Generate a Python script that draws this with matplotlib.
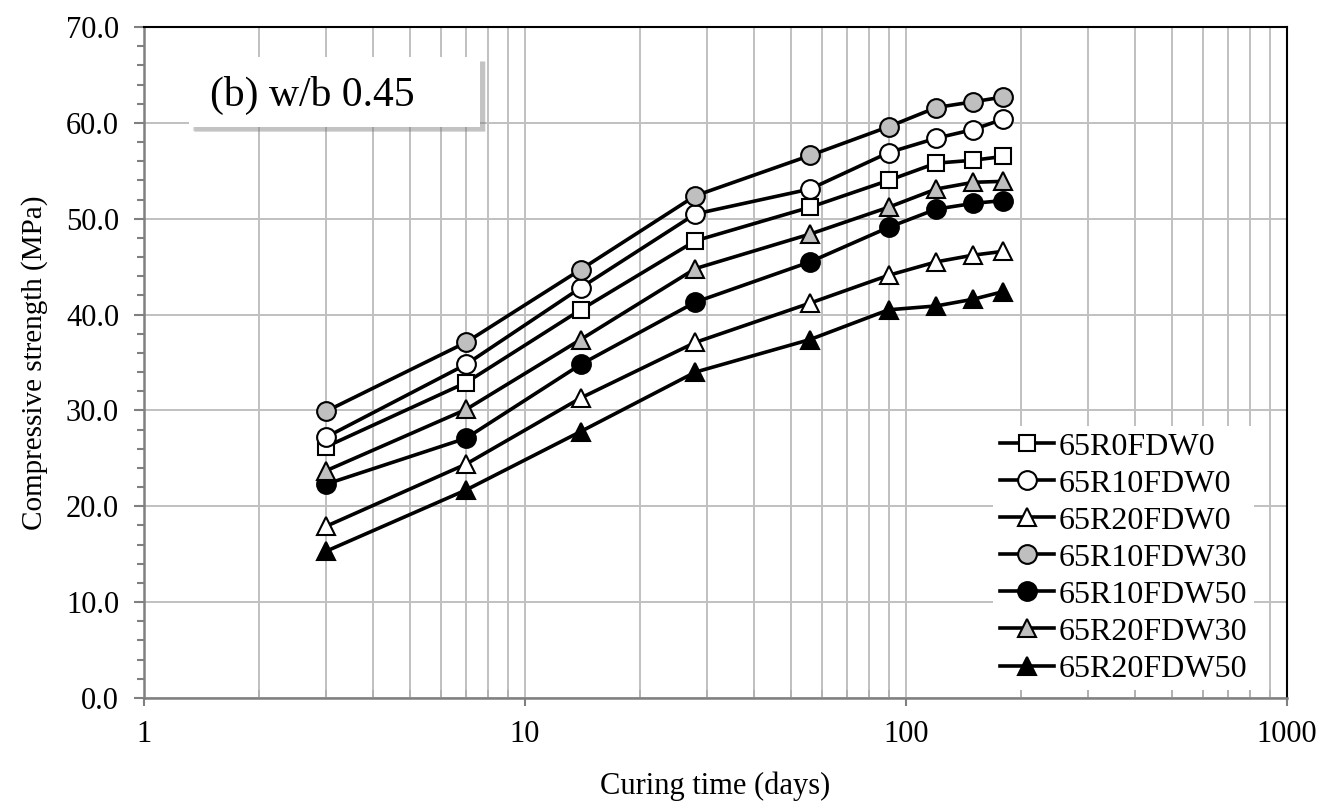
import numpy as np
import matplotlib
matplotlib.use("Agg")
import matplotlib.pyplot as plt
from matplotlib.ticker import FixedLocator, FuncFormatter, LogLocator, MultipleLocator
from matplotlib.patches import Rectangle

plt.rcParams['font.family'] = ['Liberation Serif', 'DejaVu Serif']

DAYS = [3, 7, 14, 28, 56, 90, 120, 150, 180]

R0FDW0 = [26.2, 32.9, 40.5, 47.7, 51.2, 54.0, 55.8, 56.1, 56.5]
R10FDW0 = [27.2, 34.8, 42.8, 50.5, 53.1, 56.9, 58.4, 59.3, 60.4]
R20FDW0 = [17.9, 24.4, 31.3, 37.1, 41.2, 44.1, 45.5, 46.2, 46.6]
R10FDW30 = [29.9, 37.1, 44.7, 52.4, 56.6, 59.6, 61.6, 62.2, 62.7]
R10FDW50 = [22.3, 27.1, 34.8, 41.3, 45.5, 49.1, 51.0, 51.6, 51.9]
R20FDW30 = [23.7, 30.1, 37.4, 44.8, 48.4, 51.2, 53.1, 53.8, 53.9]
R20FDW50 = [15.3, 21.7, 27.8, 34.0, 37.4, 40.5, 40.9, 41.6, 42.4]

SERIES = [
    ('65R0FDW0', R0FDW0, 's', 'white', 11.5),
    ('65R10FDW0', R10FDW0, 'o', 'white', 13.5),
    ('65R20FDW0', R20FDW0, '^', 'white', 13.5),
    ('65R10FDW30', R10FDW30, 'o', '#bfbfbf', 13.5),
    ('65R10FDW50', R10FDW50, 'o', 'black', 13.5),
    ('65R20FDW30', R20FDW30, '^', '#bfbfbf', 13.5),
    ('65R20FDW50', R20FDW50, '^', 'black', 13.5),
]

fig = plt.figure(figsize=(13.3, 8.09), dpi=100)
ax = fig.add_axes([0.1083, 0.1372, 0.8594, 0.8294])

for name, vals, mk, fc, ms in SERIES:
    ax.plot(DAYS, vals, color='black', lw=2.6, marker=mk, markersize=ms,
            markerfacecolor=fc, markeredgecolor='black', markeredgewidth=1.5,
            label=name, zorder=3)

ax.set_xscale('log')
ax.set_xlim(1, 1000)
ax.set_ylim(0, 70)
ax.xaxis.set_major_locator(FixedLocator([1, 10, 100, 1000]))
ax.xaxis.set_minor_locator(LogLocator(base=10, subs=np.arange(2, 10)))
ax.xaxis.set_major_formatter(FuncFormatter(lambda v, p: '%d' % v))
ax.yaxis.set_major_locator(MultipleLocator(10))
ax.yaxis.set_minor_locator(MultipleLocator(2))
ax.yaxis.set_major_formatter(FuncFormatter(lambda v, p: '%.1f' % v))

ax.grid(which='major', axis='both', color='#c0c0c0', lw=1.4, zorder=0)
ax.grid(which='minor', axis='x', color='#c0c0c0', lw=1.4, zorder=0)
ax.set_axisbelow(True)

ax.spines['left'].set_color('#808080')
ax.spines['left'].set_linewidth(1.8)
ax.spines['bottom'].set_color('#808080')
ax.spines['bottom'].set_linewidth(1.8)
ax.spines['top'].set_color('black')
ax.spines['top'].set_linewidth(1.5)
ax.spines['right'].set_color('black')
ax.spines['right'].set_linewidth(1.5)

ax.tick_params(axis='y', which='both', direction='out', color='#808080', width=1.5,
               labelsize=22, pad=11)
ax.tick_params(axis='y', which='major', length=7)
ax.tick_params(axis='y', which='minor', length=5)
ax.tick_params(axis='x', which='major', direction='out', color='#808080', width=1.5,
               length=6, labelsize=22, pad=10)
ax.tick_params(axis='x', which='minor', direction='in', color='#b0b0b0', width=1.3,
               length=6)

ax.set_xlabel('Curing time (days)', fontsize=22, labelpad=16)
ax.set_ylabel('Compressive strength (MPa)', fontsize=21, labelpad=13)

# label box with drop shadow
bx, by, bw, bh = 0.142, 0.843, 0.219, 0.0865
for i, a in enumerate([0.12, 0.18, 0.25]):
    d = 0.0016 * (3 - i)
    fig.add_artist(Rectangle((bx + 0.003 + d * 0.3, by - 0.005 - d * 0.3), bw, bh,
                             transform=fig.transFigure, facecolor='#7f7f7f',
                             edgecolor='none', alpha=a, zorder=4))
fig.add_artist(Rectangle((bx, by), bw, bh, transform=fig.transFigure,
                         facecolor='white', edgecolor='none', zorder=5))
fig.text(0.158, 0.882, '(b) w/b 0.45', fontsize=30, va='center', ha='left', zorder=6)

leg = ax.legend(loc='lower right', bbox_to_anchor=(0.985, -0.012), fontsize=23,
                frameon=True, framealpha=1, edgecolor='none', facecolor='white',
                handlelength=1.7, handletextpad=0.15, labelspacing=0.24,
                borderpad=0.2, fancybox=False)
leg.set_zorder(6)

fig.savefig('out.png', dpi=100)
